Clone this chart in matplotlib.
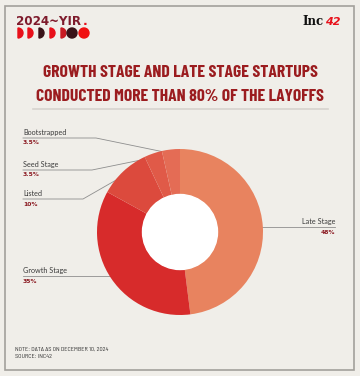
"""Donut chart: layoffs by startup stage (2024 year in review)."""
import matplotlib.pyplot as plt
from matplotlib.patches import Circle, Rectangle, Wedge
import numpy as np

stages = ["Late Stage", "Growth Stage", "Listed", "Seed Stage", "Bootstrapped"]
shares = [48, 35, 10, 3.5, 3.5]
share_labels = ["48%", "35%", "10%", "3.5%", "3.5%"]
colors = ["#E8835F", "#D72B2B", "#DC4A3D", "#E05A48", "#E46C55"]

title_lines = ["GROWTH STAGE AND LATE STAGE STARTUPS",
               "CONDUCTED MORE THAN 80% OF THE LAYOFFS"]
note_lines = ["NOTE: DATA AS ON DECEMBER 10, 2024", "SOURCE: INC42"]

BG = "#F0EEE9"
DARK_RED = "#9B1C1F"
W, H = 360, 376
LABEL_FONT = ["Lato", "DejaVu Sans"]

fig = plt.figure(figsize=(W / 100, H / 100), dpi=100, facecolor=BG)
ax = fig.add_axes([0, 0, 1, 1])
ax.set_xlim(0, W)
ax.set_ylim(H, 0)
ax.set_aspect("equal")
ax.axis("off")

# frame and separator
ax.add_patch(Rectangle((4.5, 5.5), 349.5, 364.5, fill=False, ec="#A3A09B", lw=1.2))
ax.plot([33, 328], [109, 109], color="#D6D3CE", lw=1.2)

# header
ax.text(16, 25, "2024~YIR", fontsize=8.6, fontweight="bold", color="#7E1B2C",
        family="DejaVu Sans")
ax.text(83, 25, ".", fontsize=9, fontweight="bold", color="#E8101A", family="DejaVu Sans")
moon_x = [18, 28, 39, 50, 61, 72, 84]
moon_c = ["#E8101A", "#E8101A", "#3A1218", "#E8101A", "#C81A22", "#3A1218", "#F01010"]
for i, (mx, mc) in enumerate(zip(moon_x, moon_c)):
    if i < 5:
        ax.add_patch(Wedge((mx, 33), 5, -90, 90, color=mc))
    else:
        ax.add_patch(Circle((mx, 33), 5, color=mc))
ax.text(324, 25, "Inc", fontsize=8.5, fontweight="bold", color="#111111",
        family="DejaVu Serif", ha="right")
ax.text(325, 25, "42", fontsize=8, fontweight="bold", color="#E8101A",
        family="DejaVu Sans", style="italic")

# title
for ty, line in zip([77, 101], title_lines):
    ax.text(180, ty, line, ha="center", fontsize=12.7, fontweight="bold",
            color=DARK_RED, family=["Barlow Condensed", "DejaVu Sans"])

# donut in a y-up overlay axes using the same pixel coordinates
pax = fig.add_axes([0, 0, 1, 1])
pax.axis("off")
cx, cy, r_out, r_in = 180, H - 232, 83, 37.5
wedges, _ = pax.pie(shares, colors=colors, startangle=90, counterclock=False,
                    center=(cx, cy), radius=r_out,
                    wedgeprops=dict(width=r_out - r_in, linewidth=0))
pax.add_patch(Circle((cx, cy), r_in, color="white"))
pax.set_xlim(0, W)
pax.set_ylim(0, H)
pax.set_aspect("equal")

# label layout: (text x, leader y or None, ha, elbow x) in pixel coords (y down)
layout = {
    "Late Stage": (335, None, "right", None),
    "Growth Stage": (23, None, "left", None),
    "Listed": (23, 199, "left", 83),
    "Seed Stage": (23, 170, "left", 92),
    "Bootstrapped": (23, 138, "left", 96),
}
for w, name, lab in zip(wedges, stages, share_labels):
    mid = np.deg2rad((w.theta1 + w.theta2) / 2)
    px = cx + 79 * np.cos(mid)
    py = H - (cy + 79 * np.sin(mid))
    tx, ly, ha, ex = layout[name]
    if ly is None:
        ly = py
        ax.plot([px, tx], [ly, ly], color="#8E8E8E", lw=0.6)
    else:
        ax.plot([tx, ex, px], [ly, ly, py], color="#8E8E8E", lw=0.6)
    ax.plot(px, py, "o", ms=1.6, color="white", mec="none")
    ax.text(tx, ly - 5.5, name, ha=ha, va="center", fontsize=5.2, color="#3A3A3A",
            family=LABEL_FONT)
    ax.text(tx, ly + 5, lab, ha=ha, va="center", fontsize=4.3, fontweight="bold",
            color="#8B1A22", family="DejaVu Sans")

# notes
for ny, line in zip([351, 358], note_lines):
    ax.text(15, ny, line, fontsize=4.5, color="#333333",
            family=["Barlow Semi Condensed", "DejaVu Sans"])

fig.savefig("out.png", dpi=100, facecolor=BG)
